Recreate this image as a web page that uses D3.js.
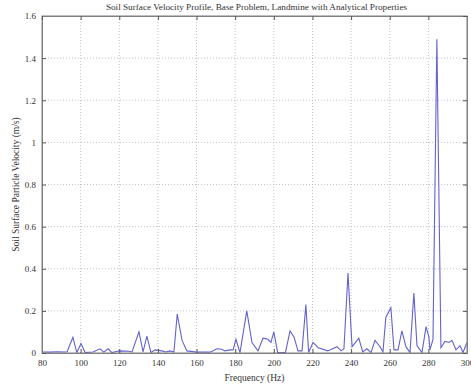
<!DOCTYPE html>
<html><head><meta charset="utf-8">
<script src="https://cdn.jsdelivr.net/npm/d3@7"></script>
<style>
body{margin:0;background:#fff;}
text{font-family:"Liberation Serif","Times New Roman",serif;fill:#333;}
</style></head><body>
<svg id="c" width="471" height="387"></svg>
<script>
const freq = [80,84,88,92,93,96,98,100.2,102.3,106.4,110,112,114.2,116.2,119,120,125,126.6,130.2,132.3,134.3,136.4,138.5,142,144.2,146.2,148.3,150,152.5,155,160,165,167,170.6,173,174.7,177.3,178.9,180.4,182.5,186,188.7,191.8,194.4,197,198.5,200,202,206,208.4,210.5,212.5,214.6,216.6,218,220.3,223,228,232.7,234.8,236.3,238.4,240.5,244,246,248.2,250.3,252.4,255,256.5,258,260.6,262.2,264.3,266.3,268.4,270.5,272.5,274.1,276.7,278.8,280.3,280.8,282.4,284.4,286.5,288.6,290.7,292.2,294.3,296.4,297.9,300];
const velocity = [0.005,0.004,0.006,0.005,0.006,0.075,0.002,0.045,0.002,0.005,0.02,0.004,0.02,0.002,0.008,0.01,0.008,0.005,0.1,0.005,0.08,0.002,0.015,0.01,0.005,0.01,0.005,0.185,0.06,0.01,0.004,0.005,0.004,0.02,0.018,0.01,0.015,0.015,0.065,0.002,0.2,0.05,0.01,0.07,0.065,0.05,0.1,0.002,0.002,0.105,0.075,0.01,0.01,0.23,0.002,0.05,0.025,0.01,0.03,0.01,0.02,0.38,0.03,0.07,0.005,0.02,0.002,0.06,0.03,0.005,0.17,0.215,0.015,0.015,0.105,0.03,0.002,0.285,0.035,0.002,0.125,0.075,0.015,0.065,1.49,0.025,0.055,0.05,0.06,0.015,0.035,0.002,0.05];
const xTicks = [80,100,120,140,160,180,200,220,240,260,280,300];
const yTicks = [0,0.2,0.4,0.6,0.8,1,1.2,1.4,1.6];
const titleText = "Soil Surface Velocity Profile, Base Problem, Landmine with Analytical Properties";
const xLabel = "Frequency (Hz)";
const yLabel = "Soil Surface Particle Velocity (m/s)";

const svg = d3.select("#c");
const L=42,R=467,T=16,B=353;
const x = d3.scaleLinear().domain([80,300]).range([L,R]);
const y = d3.scaleLinear().domain([0,1.6]).range([B,T]);

const grid = svg.append("g");
grid.selectAll(".gx").data(xTicks.slice(1,-1)).enter().append("line")
  .attr("x1",d=>x(d)).attr("x2",d=>x(d)).attr("y1",T).attr("y2",B)
  .attr("stroke","#b4b4b4").attr("stroke-width",0.8).attr("stroke-dasharray","1,2");
grid.selectAll(".gy").data(yTicks.slice(1,-1)).enter().append("line")
  .attr("y1",d=>y(d)).attr("y2",d=>y(d)).attr("x1",L).attr("x2",R)
  .attr("stroke","#b4b4b4").attr("stroke-width",0.8).attr("stroke-dasharray","1,2");

const line = d3.line().x((d,i)=>x(freq[i])).y(d=>y(d));
svg.append("path").datum(velocity).attr("d",line)
  .attr("fill","none").attr("stroke","#6262d0").attr("stroke-width",1.1);

svg.append("rect").attr("x",L).attr("y",T).attr("width",R-L).attr("height",B-T)
  .attr("fill","none").attr("stroke","#808080").attr("stroke-width",1);

const xa = svg.append("g").attr("transform",`translate(0,${B})`)
  .call(d3.axisBottom(x).tickValues(xTicks).tickSizeInner(-4).tickSizeOuter(0).tickPadding(7).tickFormat(d3.format("d")));
const ya = svg.append("g").attr("transform",`translate(${L},0)`)
  .call(d3.axisLeft(y).tickValues(yTicks).tickSizeInner(-4).tickSizeOuter(0).tickPadding(6).tickFormat(d=>String(d)));
const xa2 = svg.append("g").attr("transform",`translate(0,${T})`)
  .call(d3.axisTop(x).tickValues(xTicks).tickSizeInner(-4).tickSizeOuter(0).tickFormat(""));
const ya2 = svg.append("g").attr("transform",`translate(${R},0)`)
  .call(d3.axisRight(y).tickValues(yTicks).tickSizeInner(-4).tickSizeOuter(0).tickFormat(""));
[xa,ya,xa2,ya2].forEach(g=>{
  g.select(".domain").attr("stroke","#808080");
  g.selectAll(".tick line").attr("stroke","#555");
  g.selectAll("text").style("font-size","9px").attr("fill","#333");
});

svg.append("text").attr("x",(L+R)/2+2).attr("y",10).attr("text-anchor","middle")
  .style("font-size","9.2px").text(titleText);
svg.append("text").attr("x",(L+R)/2).attr("y",381).attr("text-anchor","middle")
  .style("font-size","9.5px").text(xLabel);
svg.append("text").attr("transform",`translate(19,${(T+B)/2}) rotate(-90)`).attr("text-anchor","middle")
  .style("font-size","9.5px").text(yLabel);
</script></body></html>
